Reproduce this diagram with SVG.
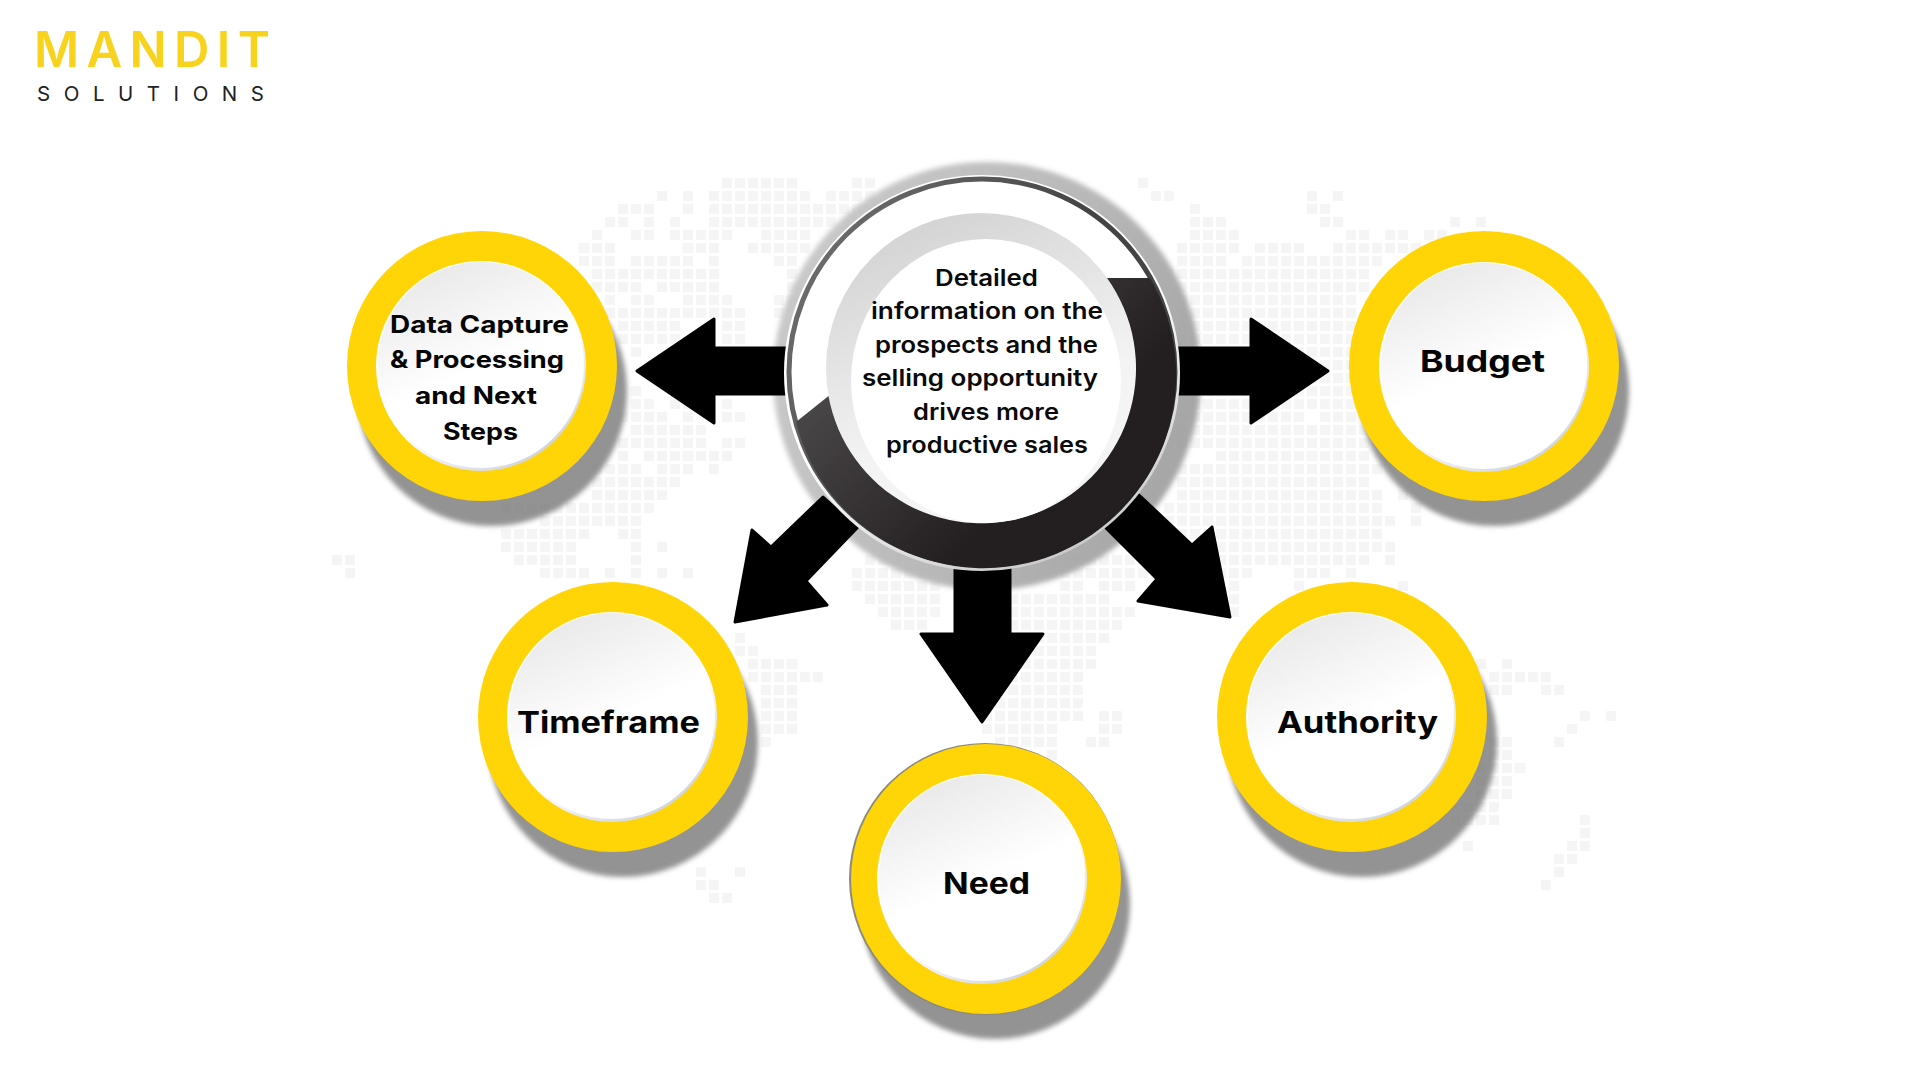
<svg xmlns="http://www.w3.org/2000/svg" width="1920" height="1080" viewBox="0 0 1920 1080">
<style>
.lab{font-family:Inter,"Liberation Sans",sans-serif;font-weight:700;fill:#050505}
.mid{font-family:Inter,"Liberation Sans",sans-serif;font-weight:600;font-size:22.5px;fill:#0a0a0a}
.s24{font-size:24px}.s30{font-size:30px}
.ring{fill:#ffd508}.shadow{fill:#7c7c7c;opacity:.82;filter:url(#b3)}.rim{fill:url(#rimG)}.face{fill:url(#faceG)}
.arrow{fill:#000;stroke:#000;stroke-width:3;stroke-linejoin:round}
</style>
<defs>
<filter id="b3" x="-20%" y="-20%" width="140%" height="140%"><feGaussianBlur stdDeviation="2.5"/></filter>
<filter id="b5" x="-20%" y="-20%" width="140%" height="140%"><feGaussianBlur stdDeviation="2.5"/></filter>
<linearGradient id="rimG" x1=".2" y1=".1" x2=".8" y2=".95"><stop offset=".55" stop-color="#fff"/><stop offset="1" stop-color="#cfd1da"/></linearGradient>
<linearGradient id="faceG" x1=".25" y1="0" x2=".55" y2=".7"><stop offset="0" stop-color="#e8e8e9"/><stop offset=".75" stop-color="#fff"/></linearGradient>
<linearGradient id="shG" x1="0" y1=".1" x2="1" y2=".5"><stop offset="0" stop-color="#c8c8c8"/><stop offset=".6" stop-color="#b4b4b4"/><stop offset="1" stop-color="#a0a0a0"/></linearGradient>
<linearGradient id="rimM" x1=".2" y1="0" x2=".7" y2="1"><stop offset=".5" stop-color="#fff"/><stop offset="1" stop-color="#c8c8c8"/></linearGradient>
<linearGradient id="grayR" x1="0" y1="0" x2=".4" y2="1"><stop offset="0" stop-color="#cdcdcd"/><stop offset=".75" stop-color="#f4f4f4"/></linearGradient>
<linearGradient id="wedge" gradientUnits="userSpaceOnUse" x1="800" y1="410" x2="950" y2="560"><stop offset="0" stop-color="#4a4749"/><stop offset="1" stop-color="#231f20"/></linearGradient>
<linearGradient id="thin" x1="0" y1="0" x2="1" y2=".6"><stop offset="0" stop-color="#777"/><stop offset=".6" stop-color="#444"/></linearGradient>
</defs>
<rect width="1920" height="1080" fill="#fff"/>

<g id="logo">
<text x="34" y="67" textLength="236" lengthAdjust="spacing" font-family="Inter,'Liberation Sans',sans-serif" font-weight="600" font-size="49" fill="#f7d31e">MANDIT</text>
<text x="37" y="101" textLength="227" lengthAdjust="spacing" font-family="Inter,'Liberation Sans',sans-serif" font-weight="400" font-size="20.5" fill="#222">SOLUTIONS</text>
</g>

<g id="world-map" transform="translate(722 183) scale(13)">
<path fill="none" stroke="#f5f5f5" stroke-width=".77" stroke-dasharray=".77 .23" d="M0 0h6M10 0h2M32 0h1M-5 1h1M-3 1h1M-1 1h8M8 1h4M33 1h2M45 1h1M47 1h1M-8 2h3M-3 2h1M-1 2h12M36 2h1M45 2h2M-9 3h2M-6 3h1M-4 3h1M-1 3h10M36 3h3M46 3h2M56 3h1M58 3h1M-10 4h1M-7 4h2M-4 4h5M3 4h4M36 4h4M48 4h2M51 4h2M54 4h2M-11 5h3M-3 5h3M2 5h5M35 5h5M41 5h4M47 5h7M-11 6h3M-7 6h5M-1 6h1M4 6h2M35 6h4M40 6h11M-10 7h10M5 7h1M34 7h16M-10 8h4M-5 8h5M5 8h1M34 8h16M-9 9h1M-7 9h2M-3 9h4M4 9h2M34 9h15M-9 10h11M4 10h1M34 10h15M-8 11h5M0 11h2M34 11h15M-8 12h5M0 12h2M34 12h15M-7 13h1M34 13h16M34 14h15M34 15h16M-7 16h1M34 16h16M-7 17h2M-4 17h2M0 17h1M34 17h15M-8 18h4M-3 18h1M0 18h2M34 18h11M46 18h3M-7 19h6M34 19h16M-8 20h7M0 20h2M34 20h16M-8 21h1M-6 21h7M38 21h12M-10 22h4M-5 22h3M-1 22h1M35 22h16M-10 23h7M35 23h15M-10 24h6M35 24h16M52 24h1M-17 25h12M34 25h17M53 25h1M-14 26h8M33 26h19M53 26h1M-17 27h7M-8 27h2M33 27h18M-17 28h6M-7 28h1M-5 28h1M33 28h19M-30 29h2M-16 29h5M-7 29h1M11 29h39M51 29h1M-29 30h1M-14 30h4M-9 30h1M-7 30h1M-5 30h1M-3 30h1M10 30h31M44 30h3M48 30h1M10 31h7M26 31h2M29 31h3M39 31h1M44 31h1M52 31h1M11 32h6M22 32h8M39 32h1M12 33h5M22 33h10M39 33h1M13 34h3M22 34h9M1 35h1M24 35h6M1 36h2M24 36h5M2 37h4M23 37h6M58 37h1M60 37h1M2 38h6M22 38h6M59 38h5M3 39h3M22 39h6M59 39h2M63 39h2M3 40h3M21 40h7M3 41h3M20 41h8M29 41h2M66 41h1M68 41h1M3 42h3M20 42h6M29 42h2M65 42h1M3 43h1M21 43h5M28 43h2M59 43h2M64 43h1M25 44h1M58 44h3M58 45h4M58 46h3M58 47h3M57 48h3M56 49h4M66 49h1M66 50h1M57 51h1M65 51h2M64 52h2M-2 53h1M1 53h1M64 53h1M-2 54h2M63 54h1M-1 55h2"/>
</g>

<circle id="center-shadow" cx="987" cy="376" r="214" fill="url(#shG)" opacity=".92" filter="url(#b5)"/>

<g id="connectors">
<path class="arrow" d="M800 348V394H714V423L637 371L714 319V348Z"/>
<path class="arrow" d="M1170 348V394H1251V423L1328 371L1251 319V348Z"/>
<path class="arrow" d="M955 560H1010V634H1043L982 722L921 634H955Z"/>
<path class="arrow" d="M823 497L857 528L806 581L827 605L735 622L752 530L771 547Z"/>
<path class="arrow" d="M1139 495L1106 528L1157 579L1138 601L1230 617L1212 527L1192 545Z"/>
</g>

<g id="node-center">
<circle cx="982" cy="373" r="198" fill="url(#rimM)"/>
<circle cx="982" cy="372" r="193" fill="#fff" stroke="url(#thin)" stroke-width="5"/>
<circle cx="981" cy="368" r="155" fill="url(#grayR)"/>
<path fill="url(#wedge)" d="M1107 278L1150 278A193 193 0 1 1 796 422L828.5 396A155 155 0 1 0 1107 278Z"/>
<ellipse cx="986" cy="381" rx="135" ry="142" fill="#fff"/>
<text class="mid" x="935" y="286" textLength="103" lengthAdjust="spacingAndGlyphs">Detailed</text>
<text class="mid" x="871" y="319" textLength="232" lengthAdjust="spacingAndGlyphs">information on the</text>
<text class="mid" x="875" y="353" textLength="223" lengthAdjust="spacingAndGlyphs">prospects and the</text>
<text class="mid" x="862" y="386" textLength="236" lengthAdjust="spacingAndGlyphs">selling opportunity</text>
<text class="mid" x="913" y="420" textLength="146" lengthAdjust="spacingAndGlyphs">drives more</text>
<text class="mid" x="886" y="453" textLength="202" lengthAdjust="spacingAndGlyphs">productive sales</text>
</g>

<g id="node-data">
<circle class="shadow" cx="492" cy="391" r="135"/>
<circle class="ring" cx="482" cy="366" r="135"/>
<circle class="rim" cx="481" cy="366" r="105"/>
<circle class="face" cx="481" cy="365" r="103"/>
<text class="lab s24" x="390" y="333" textLength="179" lengthAdjust="spacingAndGlyphs">Data Capture</text>
<text class="lab s24" x="390" y="368" textLength="174" lengthAdjust="spacingAndGlyphs">&amp; Processing</text>
<text class="lab s24" x="415" y="404" textLength="122" lengthAdjust="spacingAndGlyphs">and Next</text>
<text class="lab s24" x="443" y="440" textLength="75" lengthAdjust="spacingAndGlyphs">Steps</text>
</g>

<g id="node-budget">
<circle class="shadow" cx="1494" cy="391" r="135"/>
<circle class="ring" cx="1484" cy="366" r="135"/>
<circle class="rim" cx="1484" cy="367" r="105"/>
<circle class="face" cx="1484" cy="366" r="103"/>
<text class="lab s30" x="1420" y="372" textLength="125" lengthAdjust="spacingAndGlyphs">Budget</text>
</g>

<g id="node-timeframe">
<circle class="shadow" cx="623" cy="742" r="135"/>
<circle class="ring" cx="613" cy="717" r="135"/>
<circle class="rim" cx="612" cy="717" r="105"/>
<circle class="face" cx="612" cy="716" r="103"/>
<text class="lab s30" x="517" y="733" textLength="183" lengthAdjust="spacingAndGlyphs">Timeframe</text>
</g>

<g id="node-authority">
<circle class="shadow" cx="1362" cy="742" r="135"/>
<circle class="ring" cx="1352" cy="717" r="135"/>
<circle class="rim" cx="1351" cy="717" r="105"/>
<circle class="face" cx="1351" cy="716" r="103"/>
<text class="lab s30" x="1277" y="733" textLength="161" lengthAdjust="spacingAndGlyphs">Authority</text>
</g>

<g id="node-need">
<circle class="shadow" cx="995" cy="904" r="135"/>
<circle cx="985" cy="879" r="136" fill="#8a8a80"/>
<circle class="ring" cx="986" cy="879" r="135"/>
<circle class="rim" cx="982" cy="879" r="105"/>
<circle class="face" cx="982" cy="878" r="103"/>
<text class="lab s30" x="943" y="894" textLength="87" lengthAdjust="spacingAndGlyphs">Need</text>
</g>
</svg>
